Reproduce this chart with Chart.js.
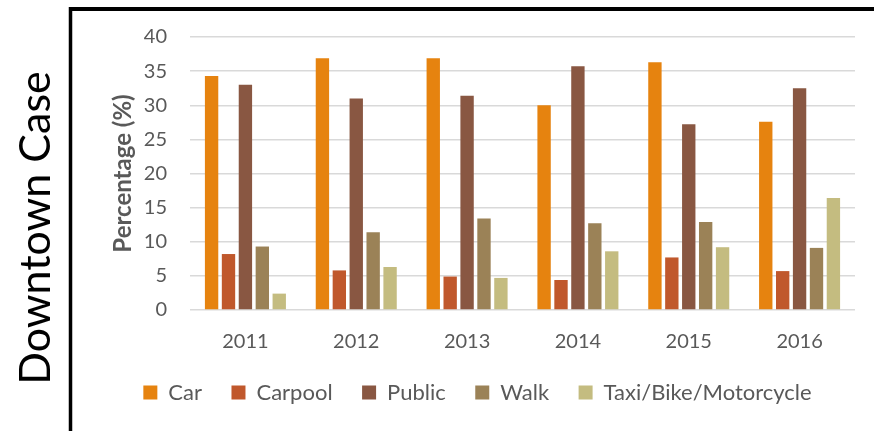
<!DOCTYPE html>
<html>
<head>
<meta charset="utf-8">
<title>Downtown Case</title>
<script src="https://cdn.jsdelivr.net/npm/chart.js@4.4.0/dist/chart.umd.min.js"></script>
<style>
html,body{margin:0;padding:0;background:#fff;}
canvas{display:block;}
</style>
</head>
<body>
<canvas id="mycanvas" width="874" height="431"></canvas>
<script>
// mode share by year, in percent
var years=['2011','2012','2013','2014','2015','2016'];
var car=[34.3,36.9,36.9,30.0,36.3,27.6];
var carpool=[8.2,5.8,4.9,4.4,7.7,5.7];
var publicTransit=[33.0,31.0,31.4,35.7,27.2,32.5];
var walk=[9.3,11.4,13.4,12.7,12.9,9.1];
var taxiBikeMoto=[2.4,6.3,4.7,8.6,9.2,16.4];
var yMin=0, yMax=40, yStep=5;

var grey='#595959';
Chart.defaults.font.family='Lato';
Chart.defaults.color=grey;

// black frame on the top and left, with the case name turned sideways
var frame={
	id:'frame',
	afterDraw:function(chart){
		var c=chart.ctx;
		c.save();
		c.strokeStyle='#000';
		c.lineWidth=4;
		c.beginPath();
		c.moveTo(69,9);c.lineTo(874,9);
		c.stroke();
		c.lineWidth=3.5;
		c.beginPath();
		c.moveTo(70.5,7);c.lineTo(70.5,431);
		c.stroke();
		c.translate(50,228);
		c.rotate(-Math.PI/2);
		c.font='43px Lato';
		c.fillStyle='#000';
		c.textAlign='center';
		c.textBaseline='alphabetic';
		c.fillText('Downtown Case',0,0);
		c.restore();
	}
};

function series(label,color,data){
	return {
		label:label,
		backgroundColor:color,
		borderWidth:0,
		data:data,
		categoryPercentage:0.763,
		barPercentage:0.79
	};
}

var chartdata={
	labels:years,
	datasets:[
		series('Car','#e6830f',car),
		series('Carpool','#c0582c',carpool),
		series('Public','#895742',publicTransit),
		series('Walk','#9b8257',walk),
		series('Taxi/Bike/Motorcycle','#c4bc80',taxiBikeMoto)
	]
};

var ctx=document.getElementById('mycanvas');
var barGraph=new Chart(ctx,{
	type:'bar',
	data:chartdata,
	plugins:[frame],
	options:{
		responsive:false,
		animation:false,
		layout:{padding:{left:100,right:19,top:37,bottom:17.5}},
		plugins:{
			legend:{
				position:'bottom',
				labels:{boxWidth:14,boxHeight:14,padding:29.5,color:grey,font:{size:22}}
			},
			tooltip:{enabled:false}
		},
		scales:{
			x:{
				grid:{display:false},
				border:{display:false},
				ticks:{padding:12,color:grey,font:{size:20}},
				afterFit:function(s){s.height=42;}
			},
			y:{
				min:yMin,max:yMax,
				ticks:{stepSize:yStep,padding:23,color:grey,font:{size:20}},
				grid:{color:'#d9d9d9',lineWidth:1.5,drawTicks:false},
				border:{display:false},
				title:{display:true,text:'Percentage (%)',color:grey,font:{size:24,weight:'bold'},padding:{top:8.6,bottom:0}},
				afterFit:function(s){s.width=90;}
			}
		}
	}
});
</script>
</body>
</html>
